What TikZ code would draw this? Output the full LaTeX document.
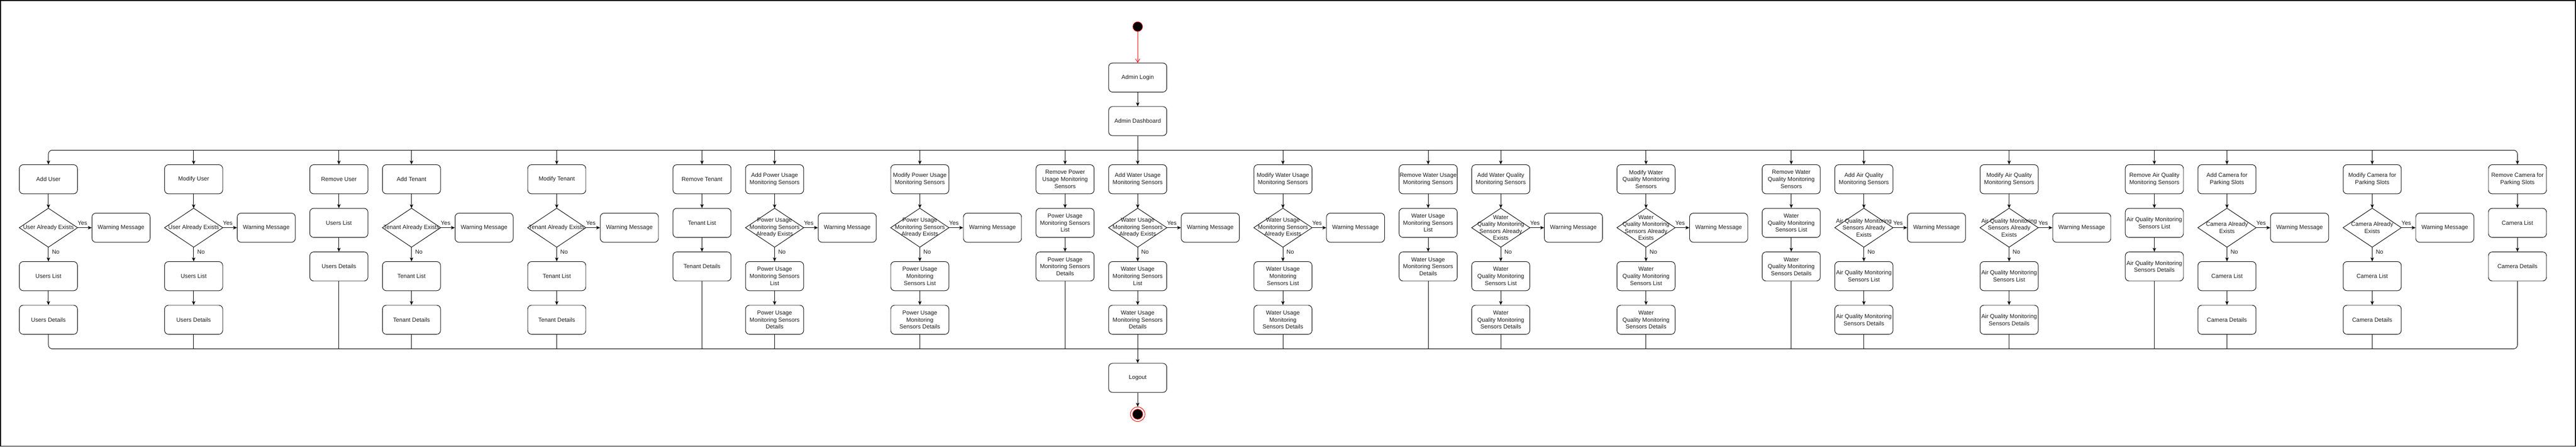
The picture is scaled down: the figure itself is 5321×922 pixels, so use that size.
\documentclass[tikz,border=0pt]{standalone}
\usepackage{fontspec}
\setmainfont{Liberation Sans}
\usetikzlibrary{arrows.meta}
\tikzset{
  txt/.style={font=\fontsize{12}{14.5}\selectfont, text=black!90},
  box/.style={txt, draw, rounded corners=8pt, minimum width=120pt, minimum height=60pt, inner sep=0pt, align=center, line width=1pt},
  dbox/.style={txt, minimum width=120pt, minimum height=80pt, inner sep=0pt, align=center},
  dline/.style={line width=1pt, line join=miter},
  conn/.style={line width=1pt},
  arr/.style={line width=1pt, -{Stealth[length=8pt,width=7pt,inset=2pt]}},
  lbl/.style={txt, inner sep=1pt},
}
\newcommand\mkA[6]{%
  \node[box] (b#2) at (#1,370) {#3};
  \node[dbox] (d#2) at (#1,470) {#4};
  \draw[dline] (d#2.north) -- (d#2.east) -- (d#2.south) -- (d#2.west) -- cycle;
  \node[box] (w#2) at (#1+150,470) {Warning Message};
  \node[box] (l#2) at (#1,570) {#5};
  \node[box] (t#2) at (#1,660) {#6};
  \draw[arr] (b#2.south) -- (d#2.north);
  \draw[arr] (d#2.east) -- node[lbl, pos=0.35, yshift=10pt] {Yes} (w#2.west);
  \draw[arr] (d#2.south) -- node[lbl, pos=0.33, anchor=west, xshift=6pt] {No} (l#2.north);
  \draw[arr] (l#2.south) -- (t#2.north);
}
\newcommand\mkR[5]{%
  \node[box] (b#2) at (#1,370) {#3};
  \node[box] (l#2) at (#1,460) {#4};
  \node[box] (t#2) at (#1,550) {#5};
  \draw[arr] (b#2.south) -- (l#2.north);
  \draw[arr] (l#2.south) -- (t#2.north);
}
\begin{document}
\begin{tikzpicture}[x=1pt, y=-1pt]
\useasboundingbox (0,0) rectangle (5321,922);
\draw[line width=1.5pt] (1,1) rectangle (5320,921);

% start / login / dashboard
\node[circle, fill=black, draw=red, line width=0.8pt, minimum size=20pt, inner sep=0pt] (start) at (2350,55) {};
\node[box] (login) at (2350,160) {Admin Login};
\node[box] (dash) at (2350,250) {Admin Dashboard};
\draw[red, line width=1pt, -{Straight Barb[length=7pt,width=9pt]}] (start) -- (login.north);
\draw[arr] (login.south) -- (dash.north);
\coordinate (bus) at (2350,310);
\coordinate (bbus) at (2350,720);
\draw[conn] (dash.south) -- (bus);

% columns
\mkA{100}{1}{Add User}{User Already Exists}{Users List}{Users Details}
\mkA{400}{2}{Modify User}{User Already Exists}{Users List}{Users Details}
\mkR{700}{3}{Remove User}{Users List}{Users Details}
\mkA{850}{4}{Add Tenant}{Tenant Already Exists}{Tenant List}{Tenant Details}
\mkA{1150}{5}{Modify Tenant}{Tenant Already Exists}{Tenant List}{Tenant Details}
\mkR{1450}{6}{Remove Tenant}{Tenant List}{Tenant Details}
\mkA{1600}{7}{Add Power Usage\\Monitoring Sensors}{Power Usage\\Monitoring Sensors\\Already Exists}{Power Usage\\Monitoring Sensors\\List}{Power Usage\\Monitoring Sensors\\Details}
\mkA{1900}{8}{Modify Power Usage\\Monitoring Sensors}{Power Usage\\Monitoring Sensors\\Already Exists}{Power Usage\\Monitoring\\Sensors List}{Power Usage\\Monitoring\\Sensors Details}
\mkR{2200}{9}{Remove Power\\Usage Monitoring\\Sensors}{Power Usage\\Monitoring Sensors\\List}{Power Usage\\Monitoring Sensors\\Details}
\mkA{2350}{10}{Add Water Usage\\Monitoring Sensors}{Water Usage\\Monitoring Sensors\\Already Exists}{Water Usage\\Monitoring Sensors\\List}{Water Usage\\Monitoring Sensors\\Details}
\mkA{2650}{11}{Modify Water Usage\\Monitoring Sensors}{Water Usage\\Monitoring Sensors\\Already Exists}{Water Usage\\Monitoring\\Sensors List}{Water Usage\\Monitoring\\Sensors Details}
\mkR{2950}{12}{Remove Water Usage\\Monitoring Sensors}{Water Usage\\Monitoring Sensors\\List}{Water Usage\\Monitoring Sensors\\Details}
\mkA{3100}{13}{Add Water Quality\\Monitoring Sensors}{Water\\Quality Monitoring\\Sensors Already\\Exists}{Water\\Quality Monitoring\\Sensors List}{Water\\Quality Monitoring\\Sensors Details}
\mkA{3400}{14}{Modify Water\\Quality Monitoring\\Sensors}{Water\\Quality Monitoring\\Sensors Already\\Exists}{Water\\Quality Monitoring\\Sensors List}{Water\\Quality Monitoring\\Sensors Details}
\mkR{3700}{15}{Remove Water\\Quality Monitoring\\Sensors}{Water\\Quality Monitoring\\Sensors List}{Water\\Quality Monitoring\\Sensors Details}
\mkA{3850}{16}{Add Air Quality\\Monitoring Sensors}{Air Quality Monitoring\\Sensors Already\\Exists}{Air Quality Monitoring\\Sensors List}{Air Quality Monitoring\\Sensors Details}
\mkA{4150}{17}{Modify Air Quality\\Monitoring Sensors}{Air Quality Monitoring\\Sensors Already\\Exists}{Air Quality Monitoring\\Sensors List}{Air Quality Monitoring\\Sensors Details}
\mkR{4450}{18}{Remove Air Quality\\Monitoring Sensors}{Air Quality Monitoring\\Sensors List}{Air Quality Monitoring\\Sensors Details}
\mkA{4600}{19}{Add Camera for\\Parking Slots}{Camera Already\\Exists}{Camera List}{Camera Details}
\mkA{4900}{20}{Modify Camera for\\Parking Slots}{Camera Already\\Exists}{Camera List}{Camera Details}
\mkR{5200}{21}{Remove Camera for\\Parking Slots}{Camera List}{Camera Details}

% top bus
\draw[arr, rounded corners=8pt] (bus) -| (b1.north);
\draw[arr, rounded corners=8pt] (bus) -| (b21.north);
\foreach \i in {2,...,20} { \draw[arr] (bus) -| (b\i.north); }

% bottom bus
\draw[conn, rounded corners=8pt] (t1.south) |- (bbus);
\draw[conn, rounded corners=8pt] (t21.south) |- (bbus);
\foreach \i in {2,...,20} { \draw[conn] (t\i.south) |- (bbus); }

% logout / end
\node[box] (logout) at (2350,780) {Logout};
\draw[arr] (bbus) -- (logout.north);
\node[circle, draw=red, fill=white, line width=1pt, minimum size=30pt, inner sep=0pt] (end) at (2350,855) {};
\fill[black, draw=red, line width=0.8pt] (end.center) circle (10.5pt);
\draw[arr] (logout.south) -- (end.north);
\end{tikzpicture}
\end{document}
